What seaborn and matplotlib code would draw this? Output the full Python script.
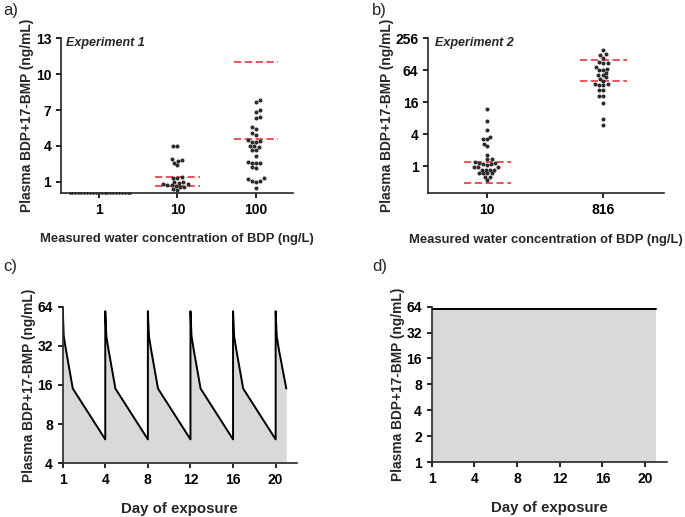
import matplotlib
matplotlib.use("Agg")
import matplotlib.pyplot as plt
import numpy as np
import pandas as pd
import seaborn as sns

# ---- data ----
# a) Experiment 1
exp1_groups = ["1", "10", "100"]
exp1_g1 = [0.1] * 22
exp1_g10 = [4.0, 4.0, 2.9, 2.85, 2.75, 2.6, 2.4, 1.4, 1.3, 1.3,
            1.0, 0.95, 0.9, 0.85, 0.8, 0.75, 0.7, 0.65, 0.6, 0.55, 0.4, 0.3]
exp1_g100 = [7.8, 7.7, 7.0, 6.8, 6.4, 6.3, 5.6, 5.45, 5.1, 4.95,
             4.5, 4.4, 4.35, 4.35, 4.0, 4.0, 3.95, 3.7, 3.7, 3.15,
             2.65, 2.6, 2.6, 2.55, 2.2, 2.15, 1.3, 1.2, 1.1, 1.05, 1.0, 0.5]
exp1_lines = {"10": [1.42, 0.61], "100": [11.0, 4.6]}

# b) Experiment 2
exp2_groups = ["10", "816"]
exp2_g10 = [11.8, 7.0, 4.8, 3.6, 3.2, 3.3, 2.6, 2.4, 1.66, 1.35, 1.35,
            1.15, 1.15, 1.1, 1.1, 1.05, 1.2, 0.97, 0.97, 0.97,
            0.87, 0.87, 0.87, 0.87, 0.74, 0.74, 0.74, 0.76, 0.63, 0.63, 0.55]
exp2_g816 = [152, 128, 125, 111, 90, 86, 86, 74, 68, 64, 66, 56, 52, 52,
             47, 44, 41, 36, 34, 34, 35, 27, 27, 21, 21, 15.6, 7.8, 5.9]
exp2_lines = {"10": [1.19, 0.49], "816": [100, 41]}

# c) simulated plasma profile, dosing every 4 days
sim_days = [0, 0.1, 0.3, 0.95, 4, 4, 4.1, 4.3, 4.95, 8, 8, 8.1, 8.3, 8.95,
            12, 12, 12.1, 12.3, 12.95, 16, 16, 16.1, 16.3, 16.95,
            20, 20, 20.1, 20.3, 21]
sim_conc = [64, 38, 30, 15, 6.1, 59, 38, 30, 15, 6.1, 59, 38, 30, 15,
            6.1, 59, 38, 30, 15, 6.1, 59, 38, 30, 15,
            6.1, 59, 38, 30, 15]

# d) constant exposure
const_days = [0, 21]
const_conc = [60, 60]

day_ticks = [0, 4, 8, 12, 16, 20]
day_labels = ["1", "4", "8", "12", "16", "20"]

# ---- style ----
sns.set_style("ticks")
plt.rcParams["font.family"] = ["Liberation Sans", "DejaVu Sans"]
plt.rcParams["font.weight"] = "bold"
plt.rcParams["axes.labelweight"] = "bold"
plt.rcParams["axes.linewidth"] = 1.2
plt.rcParams["xtick.major.width"] = 1.2
plt.rcParams["ytick.major.width"] = 1.2
plt.rcParams["xtick.major.size"] = 3.5
plt.rcParams["ytick.major.size"] = 3.5
plt.rcParams["xtick.labelsize"] = 10
plt.rcParams["ytick.labelsize"] = 10
plt.rcParams["axes.labelsize"] = 9.4

dot_col = "#2b2b2b"
red = "#e8474c"
fill_col = "#d9d9d9"
ylab = "Plasma BDP+17-BMP (ng/mL)"
xlab_conc = "Measured water concentration of BDP (ng/L)"
ylab_size = 9.9

fig = plt.figure(figsize=(6.85, 5.17), dpi=100)
ax_a = fig.add_axes([0.089, 0.627, 0.339, 0.299])
ax_b = fig.add_axes([0.625, 0.626, 0.344, 0.300])
ax_c = fig.add_axes([0.0915, 0.104, 0.342, 0.303])
ax_d = fig.add_axes([0.630, 0.106, 0.343, 0.301])


def long_frame(groups, values):
    rows = []
    for g, vals in zip(groups, values):
        rows += [(g, v) for v in vals]
    return pd.DataFrame(rows, columns=["group", "conc"])


# a)
ax_a.set_ylim(0.08, 13)
ax_a.set_xlim(-0.48, 2.47)
# values below detection sit on the axis as a packed row of small dots
sns.swarmplot(data=long_frame(["1"], [exp1_g1]), x="group", y="conc",
              order=exp1_groups, ax=ax_a, color=dot_col, size=2.0, linewidth=0)
sns.swarmplot(data=long_frame(exp1_groups[1:], [exp1_g10, exp1_g100]),
              x="group", y="conc", order=exp1_groups, ax=ax_a,
              color=dot_col, size=2.9, linewidth=0)
for c in ax_a.collections:
    c.set_clip_on(False)
for i, g in enumerate(exp1_groups):
    for y in exp1_lines.get(g, []):
        ax_a.hlines(y, i - 0.28, i + 0.28, colors=red, linestyles=(0, (4, 2)), lw=1.3)
ax_a.set_xlim(-0.48, 2.47)
ax_a.set_yticks([1, 4, 7, 10, 13])
ax_a.set_xlabel(xlab_conc, labelpad=12)
ax_a.set_ylabel(ylab, labelpad=1, fontsize=ylab_size)
ax_a.text(0.02, 1.01, "Experiment 1", transform=ax_a.transAxes, style="italic",
          fontsize=9, va="top", ha="left")

# b)
df_b = long_frame(exp2_groups, [exp2_g10, exp2_g816])
ax_b.set_yscale("log", base=2)
ax_b.set_ylim(0.31, 256)
ax_b.set_xlim(-0.51, 1.52)
sns.swarmplot(data=df_b, x="group", y="conc", order=exp2_groups, ax=ax_b,
              color=dot_col, size=2.9, linewidth=0)
for i, g in enumerate(exp2_groups):
    for y in exp2_lines[g]:
        ax_b.hlines(y, i - 0.2, i + 0.2, colors=red, linestyles=(0, (4, 2)), lw=1.3)
ax_b.set_xlim(-0.51, 1.52)
ax_b.set_yticks([1, 4, 16, 64, 256])
ax_b.set_yticklabels(["1", "4", "16", "64", "256"])
ax_b.minorticks_off()
ax_b.set_xlabel(xlab_conc, labelpad=12)
ax_b.set_ylabel(ylab, labelpad=1, fontsize=ylab_size)
ax_b.text(0.03, 1.01, "Experiment 2", transform=ax_b.transAxes, style="italic",
          fontsize=9, va="top", ha="left")

# c)
ax_c.set_yscale("log", base=2)
ax_c.fill_between(sim_days, sim_conc, 4, color=fill_col, lw=0)
sns.lineplot(x=sim_days, y=sim_conc, estimator=None, sort=False, ax=ax_c,
             color="black", lw=1.4)
ax_c.set_ylim(4, 64)
ax_c.set_yticks([4, 8, 16, 32, 64])
ax_c.set_yticklabels(["4", "8", "16", "32", "64"])

# d)
ax_d.set_yscale("log", base=2)
ax_d.fill_between(const_days, const_conc, 1, color=fill_col, lw=0)
sns.lineplot(x=const_days, y=const_conc, estimator=None, sort=False, ax=ax_d,
             color="black", lw=1.4)
ax_d.set_ylim(1, 64)
ax_d.set_yticks([1, 2, 4, 8, 16, 32, 64])
ax_d.set_yticklabels(["1", "2", "4", "8", "16", "32", "64"])

for ax in (ax_c, ax_d):
    ax.set_xlim(0, 22)
    ax.set_xticks(day_ticks)
    ax.set_xticklabels(day_labels)
    ax.minorticks_off()
    ax.set_xlabel("Day of exposure", labelpad=11, fontsize=10.8)
    ax.set_ylabel(ylab, labelpad=1, fontsize=ylab_size)

for ax in (ax_a, ax_b, ax_c, ax_d):
    sns.despine(ax=ax)
    ax.tick_params(colors="black", labelcolor="black")

for lab, x, y in [("a)", 0.005, 0.995), ("b)", 0.543, 0.995),
                  ("c)", 0.005, 0.50), ("d)", 0.543, 0.50)]:
    fig.text(x, y, lab, fontsize=12, fontweight="normal", va="top", ha="left")

fig.savefig("out.png", dpi=100)
